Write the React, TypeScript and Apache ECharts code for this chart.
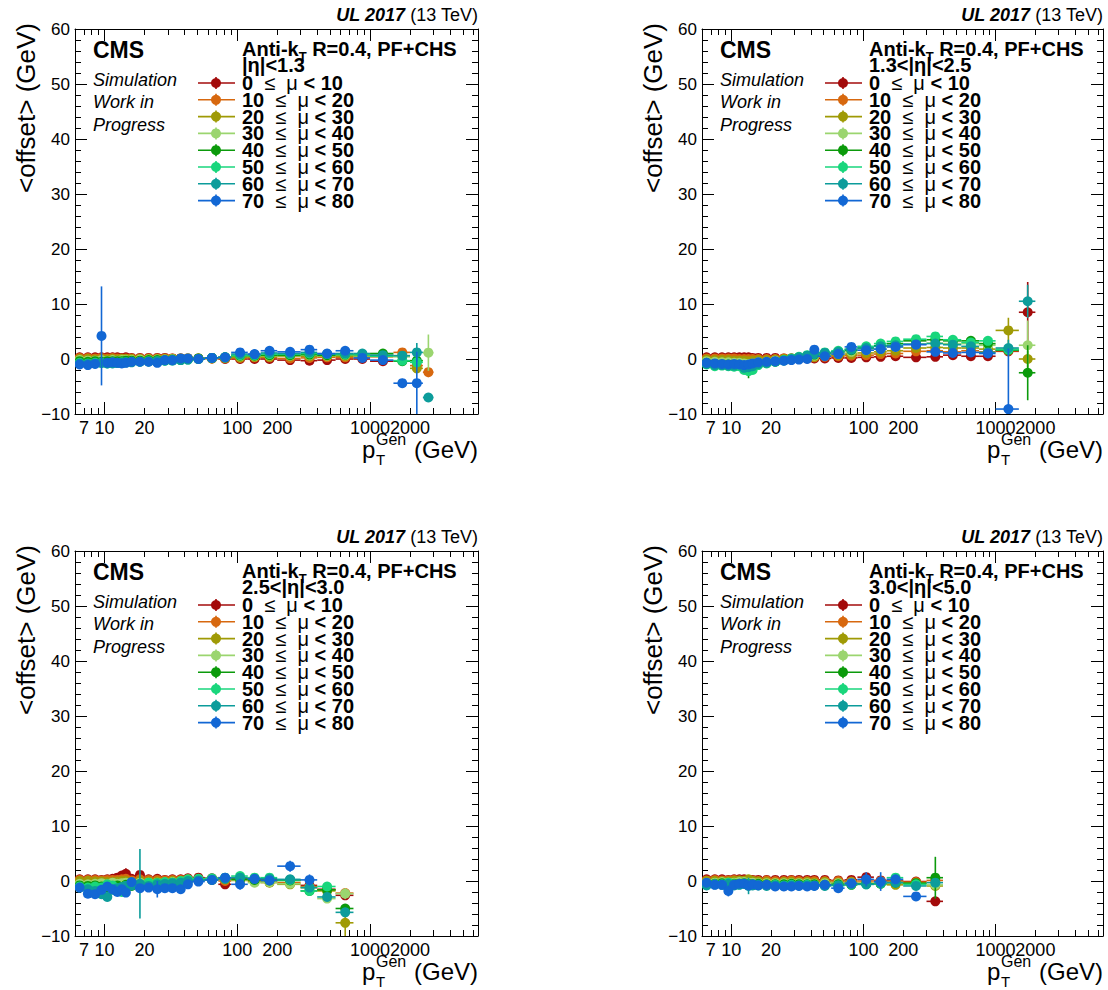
import React, { useEffect, useRef } from "react";
import * as echarts from "echarts";

const FONT = '"Liberation Sans", Arial, Helvetica, sans-serif';

// pT bin edges (GeV)
const PT_BIN_EDGES = [6, 7, 8, 9, 10, 11, 12, 13, 14, 15, 17, 20, 23, 27, 30, 35, 40, 45, 57, 72, 90, 120, 150, 200, 300, 400, 550, 750, 1000, 1500, 2000, 2500, 3000];

// mu bins
const MU_BIN_EDGES = [0, 10, 20, 30, 40, 50, 60, 70, 80];
const MU_COLORS = ["#a30b0b", "#d7680f", "#9f9a05", "#9bd56f", "#0b9a0b", "#19d67c", "#0c9c9b", "#1267d4"];

const ETA_LABELS = ["|η|<1.3", "1.3<|η|<2.5", "2.5<|η|<3.0", "3.0<|η|<5.0"];

// axis ticks
const X_MIN = 6;
const X_MAX = 6500;
const X_TICK_LABELS = [7, 10, 20, 100, 200, 1000];
const X_TICK_LABELS_2 = [2000];
const X_MINOR_TICKS = [6, 7, 8, 9, 20, 30, 40, 50, 60, 70, 80, 90, 200, 300, 400, 500, 600, 700, 800, 900, 2000, 3000, 4000, 5000, 6000];
const X_MAJOR_TICKS = [10, 100, 1000];
const Y_MIN = -10;
const Y_MAX = 60;
const Y_STEP = 10;

// <offset> (GeV) per mu bin (rows) and pT bin (columns)
const OFFSET_ETA_00_13 = [
  [0.3, 0.3, 0.3, 0.3, 0.3, 0.3, 0.3, 0.2, 0.3, 0.2, 0.2, 0.2, 0.2, 0.2, 0.1, 0.1, 0.1, 0.1, 0.1, 0.0, 0.0, 0.0, 0.0, -0.2, -0.3, -0.2, 0.0, 0.0, -0.4],
  [0.2, 0.2, 0.1, 0.2, 0.1, 0.2, 0.1, 0.1, 0.1, 0.1, 0.1, 0.1, 0.1, 0.1, 0.1, 0.1, 0.1, 0.1, 0.1, 0.1, 0.2, 0.3, 0.3, 0.1, 0.2, 0.3, 0.3, 0.4, 0.4, 1.2, -1.2, -2.4],
  [0.0, 0.0, -0.1, 0.0, -0.1, 0.0, -0.1, 0.0, 0.0, 0.0, 0.0, 0.0, 0.0, 0.0, 0.0, 0.1, 0.1, 0.0, 0.1, 0.2, 0.3, 0.4, 0.4, 0.5, 0.5, 0.5, 0.5, 0.5, 0.6, 0.6, -1.7],
  [-0.2, -0.3, -0.3, -0.2, -0.3, -0.2, -0.3, -0.2, -0.2, -0.2, -0.1, -0.1, -0.1, -0.1, 0.0, 0.0, 0.1, 0.1, 0.2, 0.3, 0.5, 0.5, 0.6, 0.6, 0.7, 0.6, 0.7, 0.6, 0.7, 0.4, null, 1.15],
  [-0.4, -0.5, -0.4, -0.5, -0.4, -0.4, -0.4, -0.4, -0.3, -0.3, -0.3, -0.2, -0.2, -0.2, -0.1, -0.1, 0.0, 0.1, 0.2, 0.3, 0.6, 0.6, 0.7, 0.7, 0.8, 0.7, 0.8, 0.8, 1.0, -0.4, -0.3],
  [-0.7, -0.8, -0.7, -0.7, -0.8, -0.6, -0.7, -0.6, -0.6, -0.5, -0.5, -0.4, -0.4, -0.3, -0.2, -0.2, -0.1, 0.0, 0.2, 0.3, 0.7, 0.7, 0.9, 0.9, 1.0, 0.9, 0.9, 0.8, 0.5, -0.3, -0.6],
  [-0.8, -0.9, -0.8, -0.7, -0.8, -0.8, -0.7, -0.7, -0.6, -0.6, -0.5, -0.5, -0.4, -0.3, -0.3, -0.2, -0.1, 0.0, 0.2, 0.3, 0.9, 0.8, 1.1, 1.0, 1.2, 0.9, 1.0, 1.0, 0.7, 0.6, 1.2, -7.0],
  [-1.0, -1.1, -0.9, 4.2, -0.7, -0.6, -0.7, -0.8, -0.7, -0.5, -0.5, -0.5, -0.7, -0.2, -0.2, 0.1, 0.1, 0.0, 0.2, 0.3, 1.2, 0.9, 1.5, 1.3, 1.7, 1.0, 1.5, 0.2, -0.2, -4.4, -4.4],
];
const OFFSET_ETA_13_25 = [
  [0.3, 0.3, 0.3, 0.3, 0.3, 0.3, 0.3, 0.3, 0.2, 0.2, 0.2, 0.2, 0.1, 0.1, 0.1, 0.1, 0.1, 0.1, 0.2, 0.2, 0.3, 0.4, 0.5, 0.3, 0.4, 0.7, 0.5, 0.5, 1.4, 8.5],
  [0.1, 0.1, 0.1, 0.1, 0.1, 0.0, 0.0, 0.0, 0.0, 0.0, 0.0, 0.0, 0.1, 0.1, 0.1, 0.2, 0.3, 0.4, 0.5, 0.6, 0.7, 0.9, 1.0, 1.4, 1.5, 1.3, 1.5, 1.3, 1.5],
  [-0.1, -0.2, -0.2, -0.2, -0.3, -0.3, -0.3, -0.4, -0.3, -0.2, -0.2, -0.1, 0.0, 0.1, 0.2, 0.3, 0.4, 0.6, 0.7, 0.9, 1.1, 1.3, 1.5, 2.0, 2.1, 2.0, 2.0, 1.8, 5.2, 0.0],
  [-0.4, -0.5, -0.6, -0.6, -0.7, -0.7, -0.8, -0.9, -0.8, -0.6, -0.5, -0.3, -0.2, 0.0, 0.2, 0.4, 0.6, 0.8, 1.0, 1.3, 1.6, 1.8, 2.2, 2.7, 2.9, 2.8, 2.8, 2.5, 1.8, 2.5],
  [-0.7, -0.9, -1.0, -1.0, -1.1, -1.2, -1.4, -2.0, -1.3, -0.9, -0.7, -0.5, -0.2, 0.0, 0.3, 0.5, 0.8, 1.0, 1.3, 1.6, 2.0, 2.4, 2.8, 3.3, 3.5, 3.3, 3.3, 2.8, 1.6, -2.5],
  [-1.0, -1.3, -1.2, -1.3, -1.4, -1.3, -2.0, -2.2, -2.0, -1.1, -0.8, -0.5, -0.2, 0.1, 0.4, 0.7, 1.0, 1.2, 1.5, 1.8, 2.3, 2.8, 3.2, 3.6, 4.1, 3.5, 3.0, 3.3, 1.7],
  [-0.9, -1.1, -1.1, -1.2, -1.2, -1.0, -1.6, -1.5, -1.3, -0.9, -0.7, -0.5, -0.3, 0.0, 0.3, 0.6, 0.9, 1.1, 1.3, 1.7, 2.0, 2.3, 2.5, 2.7, 2.8, 2.6, 2.3, 1.2, 2.0, 10.5],
  [-0.7, -0.8, -0.9, -1.0, -0.9, -1.0, -1.1, -1.0, -0.8, -0.6, -0.5, -0.4, -0.3, -0.2, -0.1, 0.0, 1.7, 0.5, 0.9, 2.2, 1.6, 1.8, 2.2, 2.6, 1.3, 1.1, 1.2, 1.0, -9.1],
];
const OFFSET_ETA_25_30 = [
  [0.3, 0.3, 0.3, 0.2, 0.3, 0.4, 0.6, 1.0, 1.3, 0.4, 1.1, 0.3, 0.4, 0.2, 0.3, 0.3, 0.5, 0.6, 0.5, -0.6, 0.5, 0.3, 0.2, 0.2, -0.8, -1.5, -2.6],
  [0.2, 0.2, 0.2, 0.1, 0.2, 0.2, 0.2, 0.3, 0.4, 0.1, 0.3, 0.2, 0.2, 0.1, 0.2, 0.2, 0.3, 0.4, 0.3, 0.0, 0.3, 0.1, 0.0, -0.3, -1.0, -1.6, -2.2],
  [0.0, 0.0, -0.1, -0.1, -0.2, -0.2, -0.1, 0.0, 0.0, -0.2, 0.0, -0.1, -0.1, -0.2, 0.0, 0.0, 0.3, 0.3, 0.2, 0.3, 0.1, -0.1, -0.3, -0.6, -1.2, -1.8, -7.6],
  [-0.5, -0.6, -0.5, -0.4, -0.6, -0.3, -0.5, -0.4, -0.3, -0.5, -0.3, -0.3, -0.3, -0.5, -0.2, -0.3, 0.2, 0.2, 0.3, 0.5, 0.2, -0.3, -0.2, -0.5, -1.2, -3.2, -2.3],
  [-0.8, -0.9, -0.8, -1.0, -1.2, -0.9, -0.8, -1.5, -0.7, -0.9, -0.6, -0.6, -0.4, -0.5, -0.3, -0.2, 0.1, 0.2, 0.3, 0.5, 0.3, 0.2, 0.1, 0.1, -1.8, -1.6, -5.0],
  [-1.0, -1.2, -1.0, -1.2, -0.6, -0.8, -1.3, -2.0, -0.9, -0.6, -0.8, -0.3, -0.4, -0.2, -0.3, 0.0, 0.3, 0.4, 0.5, 0.6, 0.9, 0.6, 0.6, 0.2, -1.8, -1.0],
  [-1.2, -1.5, -1.8, -2.4, -2.9, -1.6, -1.3, -1.1, -0.9, -0.8, -0.5, -0.9, -0.6, -0.5, -0.4, -0.3, 0.0, 0.1, 0.2, 0.4, 0.6, 0.4, 0.4, 0.3, -1.2, -2.9, -5.7],
  [-1.2, -2.3, -2.4, -1.6, -1.0, -1.5, -2.0, -1.5, -2.1, -0.2, -1.3, -1.2, -1.5, -1.3, -1.3, -1.5, -0.6, -0.1, 0.2, 0.6, -0.6, 0.4, 0.1, 2.7, 0.2],
];
const OFFSET_ETA_30_50 = [
  [0.3, 0.3, 0.3, 0.2, 0.3, 0.3, 0.3, 0.2, 0.2, 0.2, 0.2, 0.2, 0.2, 0.2, 0.2, 0.2, 0.2, 0.2, 0.1, 0.2, 0.7, 0.1, 0.1, -0.1, -3.7],
  [0.1, 0.2, 0.1, 0.1, 0.2, 0.1, 0.1, 0.1, 0.1, 0.0, 0.1, 0.0, 0.0, 0.1, 0.0, 0.0, 0.0, 0.0, 0.0, -0.1, 0.0, 0.0, 0.0, -0.2, 0.1],
  [0.0, 0.0, -0.1, -0.1, 0.0, 0.1, 0.0, 0.3, 0.0, -0.1, -0.2, -0.3, -0.2, -0.2, -0.3, -0.2, -0.3, -0.2, -0.3, -0.2, -0.4, -0.5, -0.7, -0.4, -0.9],
  [-0.3, -0.3, -0.2, -0.3, -0.3, -0.2, -0.2, -0.3, -0.3, -0.4, -0.4, -0.4, -0.4, -0.4, -0.4, -0.4, -0.5, -0.4, -0.4, -0.4, -0.5, -0.4, -0.3, -0.5, -0.7],
  [-0.5, -0.5, -0.4, -0.5, -0.5, -0.5, -0.4, -0.5, -0.6, -0.5, -0.6, -0.6, -0.6, -0.5, -0.6, -0.6, -0.6, -0.7, -0.6, -0.7, -0.5, -0.5, -0.3, -0.4, 0.6],
  [-0.7, -0.6, -0.6, -0.3, -0.6, -0.6, -0.5, -0.6, -0.7, -0.8, -0.7, -0.7, -0.8, -0.7, -0.8, -0.7, -0.8, -0.8, -0.8, -0.6, -0.6, -0.5, 0.6, -0.6],
  [-0.8, -0.6, -0.7, -0.5, -0.8, -0.7, -0.5, -0.9, -0.8, -0.7, -0.9, -0.8, -0.9, -0.8, -0.8, -0.8, -0.8, -0.9, -0.8, -0.6, -0.6, -0.4, -0.3, -0.9, -0.3],
  [-0.3, -0.7, -0.7, -1.8, -0.7, -0.5, -0.5, -0.8, -0.6, -0.8, -0.7, -1.0, -1.0, -1.0, -0.9, -1.0, -0.9, -0.7, -1.3, -0.4, 0.3, -0.1, 0.3, -2.8],
];

// statistical uncertainty: default, and [muBin, ptBin, error] where it is visibly larger
const DEFAULT_ERR = 0.3;
const ERR_ETA_00_13 = [[7, 3, 9.0], [7, 29, 0.8], [7, 30, 5.7], [6, 30, 1.7], [6, 31, 0.8], [3, 31, 3.3], [1, 31, 0.9], [1, 30, 0.8], [2, 30, 0.8], [4, 30, 1.0], [5, 30, 0.6], [1, 29, 0.6]];
const ERR_ETA_13_25 = [[0, 29, 5.5], [2, 28, 2.3], [2, 29, 1.5], [3, 29, 4.5], [4, 29, 5.0], [6, 29, 3.0], [6, 28, 1.5], [7, 28, 11.0], [4, 7, 1.5], [0, 27, 0.8], [5, 7, 0.8]];
const ERR_ETA_25_30 = [[6, 10, 6.3], [0, 8, 1.0], [0, 10, 0.6], [7, 12, 1.5], [7, 20, 1.0], [7, 23, 1.0], [7, 24, 1.0], [3, 26, 1.0], [2, 26, 2.5], [4, 26, 0.8], [0, 26, 0.8], [6, 26, 0.8]];
const ERR_ETA_30_50 = [[7, 3, 1.0], [6, 7, 1.5], [7, 20, 1.3], [7, 21, 1.7], [4, 24, 3.8], [0, 24, 0.6], [2, 24, 0.6]];

const PANELS = [
  { values: OFFSET_ETA_00_13, errs: ERR_ETA_00_13, eta: ETA_LABELS[0] },
  { values: OFFSET_ETA_13_25, errs: ERR_ETA_13_25, eta: ETA_LABELS[1] },
  { values: OFFSET_ETA_25_30, errs: ERR_ETA_25_30, eta: ETA_LABELS[2] },
  { values: OFFSET_ETA_30_50, errs: ERR_ETA_30_50, eta: ETA_LABELS[3] },
];

// layout
const PLOT_H = 385;
const BOXES = [
  { left: 75, top: 29, width: 403, dx: 0, dy: 0 },
  { left: 702, top: 29, width: 401, dx: 627, dy: 0 },
  { left: 75, top: 551, width: 403, dx: 0, dy: 522 },
  { left: 702, top: 551, width: 401, dx: 627, dy: 522 },
];

function measure(text: string, font: string): number {
  const c = document.createElement("canvas").getContext("2d");
  if (!c) return text.length * 10;
  c.font = font;
  return c.measureText(text).width;
}

function txt(x: number, y: number, text: string, o: any = {}) {
  return {
    type: "text",
    x,
    y,
    rotation: o.rotation || 0,
    silent: true,
    z: 100,
    style: {
      text,
      fill: "#000",
      fontFamily: FONT,
      fontSize: o.size || 18,
      fontWeight: o.weight || "normal",
      fontStyle: o.style || "normal",
      textAlign: o.align || "left",
      align: o.align || "left",
      textVerticalAlign: "middle",
      verticalAlign: "middle",
      rich: o.rich,
    },
  };
}

function makeRender(color: string) {
  return (params: any, api: any) => {
    const x = api.value(0);
    const y = api.value(1);
    const lo = api.value(2);
    const hi = api.value(3);
    const e = api.value(4);
    const c = api.coord([x, y]);
    const l = api.coord([lo, y]);
    const h = api.coord([hi, y]);
    const u = api.coord([x, y + e]);
    const d = api.coord([x, y - e]);
    return {
      type: "group",
      children: [
        { type: "line", shape: { x1: l[0], y1: c[1], x2: h[0], y2: c[1] }, style: { stroke: color, lineWidth: 1.6 } },
        { type: "line", shape: { x1: c[0], y1: u[1], x2: c[0], y2: d[1] }, style: { stroke: color, lineWidth: 1.6 } },
        { type: "circle", shape: { cx: c[0], cy: c[1], r: 5 }, style: { fill: color } },
      ],
    };
  };
}

function buildOption() {
  const grid: any[] = [];
  const xAxis: any[] = [];
  const yAxis: any[] = [];
  const series: any[] = [];
  const graphic: any[] = [];
  const black = { color: "#000", width: 1 };
  const xLabel = { show: true, margin: 5, color: "#000", fontSize: 18, fontFamily: FONT, hideOverlap: false, formatter: (v: number) => String(Math.round(v)) };

  PANELS.forEach((panel, p) => {
    const b = BOXES[p];
    grid.push({ left: b.left, top: b.top, width: b.width, height: PLOT_H, containLabel: false, outerBoundsMode: "none", show: false });

    const xBase = {
      type: "log", logBase: 10, min: X_MIN, max: X_MAX, gridIndex: p,
      splitLine: { show: false }, minorTick: { show: false }, minorSplitLine: { show: false },
    };
    xAxis.push({
      ...xBase, position: "bottom",
      axisLine: { show: true, onZero: false, lineStyle: black },
      axisTick: { show: true, inside: true, length: 6, customValues: X_MINOR_TICKS, lineStyle: black },
      axisLabel: { ...xLabel, customValues: X_TICK_LABELS },
    });
    xAxis.push({
      ...xBase, position: "bottom",
      axisLine: { show: false, onZero: false },
      axisTick: { show: true, inside: true, length: 12, customValues: X_MAJOR_TICKS, lineStyle: black },
      axisLabel: { ...xLabel, customValues: X_TICK_LABELS_2 },
    });
    xAxis.push({
      ...xBase, position: "top",
      axisLine: { show: true, onZero: false, lineStyle: black },
      axisTick: { show: true, inside: true, length: 6, customValues: X_MINOR_TICKS, lineStyle: black },
      axisLabel: { show: false },
    });
    xAxis.push({
      ...xBase, position: "top",
      axisLine: { show: false, onZero: false },
      axisTick: { show: true, inside: true, length: 12, customValues: X_MAJOR_TICKS, lineStyle: black },
      axisLabel: { show: false },
    });

    const yBase = { type: "value", min: Y_MIN, max: Y_MAX, interval: Y_STEP, gridIndex: p, splitLine: { show: false } };
    yAxis.push({
      ...yBase, position: "left",
      axisLine: { show: true, onZero: false, lineStyle: black },
      axisTick: { show: true, inside: true, length: 12, lineStyle: black },
      minorTick: { show: true, splitNumber: 5, length: 6, lineStyle: black },
      axisLabel: { margin: 5, fontSize: 17, color: "#000", fontFamily: FONT, formatter: (v: number) => (v < 0 ? "\u2212" + Math.abs(v) : String(v)) },
    });
    yAxis.push({
      ...yBase, position: "right",
      axisLine: { show: true, onZero: false, lineStyle: black },
      axisTick: { show: true, inside: true, length: 12, lineStyle: black },
      minorTick: { show: true, splitNumber: 5, length: 6, lineStyle: black },
      axisLabel: { show: false },
    });

    panel.values.forEach((row, k) => {
      const items: any[] = [];
      row.forEach((v, i) => {
        if (v === null || v === undefined) return;
        const lo = PT_BIN_EDGES[i];
        const hi = PT_BIN_EDGES[i + 1];
        const over = panel.errs.find((e) => e[0] === k && e[1] === i);
        const err = over ? over[2] : DEFAULT_ERR;
        items.push([(lo + hi) / 2, v, lo, hi, err]);
      });
      series.push({
        type: "custom",
        name: `${MU_BIN_EDGES[k]}-${MU_BIN_EDGES[k + 1]}`,
        xAxisIndex: 4 * p,
        yAxisIndex: 2 * p,
        clip: true,
        silent: true,
        z: 2 + k,
        encode: { x: 0, y: 1 },
        renderItem: makeRender(MU_COLORS[k]),
        data: items,
      });
    });

    // texts
    const dx = b.dx;
    const dy = b.dy;
    const right = b.left + b.width;
    graphic.push(txt(26 + dx, 108 + dy, "<offset> (GeV)", { size: 26, rotation: Math.PI / 2, align: "center" }));
    graphic.push(txt(right, 15 + dy, "{b|UL 2017} {n|(13 TeV)}", {
      size: 18, align: "right",
      rich: { b: { fontWeight: "bold", fontStyle: "italic", fontSize: 18, fontFamily: FONT }, n: { fontSize: 18, fontFamily: FONT } },
    }));
    graphic.push(txt(93 + dx, 50 + dy, "CMS", { size: 23, weight: "bold" }));
    graphic.push(txt(93 + dx, 80 + dy, "Simulation", { size: 18, style: "italic" }));
    graphic.push(txt(93 + dx, 102 + dy, "Work in", { size: 18, style: "italic" }));
    graphic.push(txt(93 + dx, 125 + dy, "Progress", { size: 18, style: "italic" }));

    const bf = `bold 20px ${FONT}`;
    const w1 = measure("Anti-k", bf);
    const w2 = measure("T", `bold 13px ${FONT}`);
    graphic.push(txt(242 + dx, 49 + dy, "Anti-k", { size: 20, weight: "bold" }));
    graphic.push(txt(242 + dx + w1, 56 + dy, "T", { size: 13, weight: "bold" }));
    graphic.push(txt(242 + dx + w1 + w2, 49 + dy, " R=0.4, PF+CHS", { size: 20, weight: "bold" }));
    graphic.push(txt(242 + dx, 65 + dy, panel.eta, { size: 20, weight: "bold" }));

    MU_COLORS.forEach((col, k) => {
      const y = 83 + 16.8 * k + dy;
      graphic.push({ type: "line", silent: true, z: 100, shape: { x1: 198 + dx, y1: y, x2: 235 + dx, y2: y }, style: { stroke: col, lineWidth: 1.6 } });
      graphic.push({ type: "line", silent: true, z: 100, shape: { x1: 216 + dx, y1: y - 6, x2: 216 + dx, y2: y + 6 }, style: { stroke: col, lineWidth: 1.6 } });
      graphic.push({ type: "circle", silent: true, z: 101, shape: { cx: 216 + dx, cy: y, r: 5 }, style: { fill: col } });
      graphic.push(txt(242 + dx, y, `{b|${MU_BIN_EDGES[k]}}  {n|≤}  {n|μ} {b|< ${MU_BIN_EDGES[k + 1]}}`, {
        size: 20, weight: "bold",
        rich: { b: { fontWeight: "bold", fontSize: 20, fontFamily: FONT }, n: { fontSize: 20, fontFamily: FONT } },
      }));
    });

    // x axis title
    graphic.push(txt(right - 116, 449 + dy, "p", { size: 24 }));
    graphic.push(txt(right - 102, 439 + dy, "Gen", { size: 16 }));
    graphic.push(txt(right - 102, 459 + dy, "T", { size: 15 }));
    graphic.push(txt(right, 449 + dy, "(GeV)", { size: 24, align: "right" }));
  });

  return {
    animation: false,
    backgroundColor: "#fff",
    grid,
    xAxis,
    yAxis,
    series,
    graphic: { elements: graphic },
  };
}

export default function App() {
  const ref = useRef<HTMLDivElement>(null);
  useEffect(() => {
    document.body.style.margin = "0";
    if (!ref.current) return;
    const chart = echarts.init(ref.current, null, { renderer: "svg" });
    chart.setOption(buildOption() as any);
    return () => chart.dispose();
  }, []);
  return <div ref={ref} style={{ width: 1108, height: 990 }} />;
}
